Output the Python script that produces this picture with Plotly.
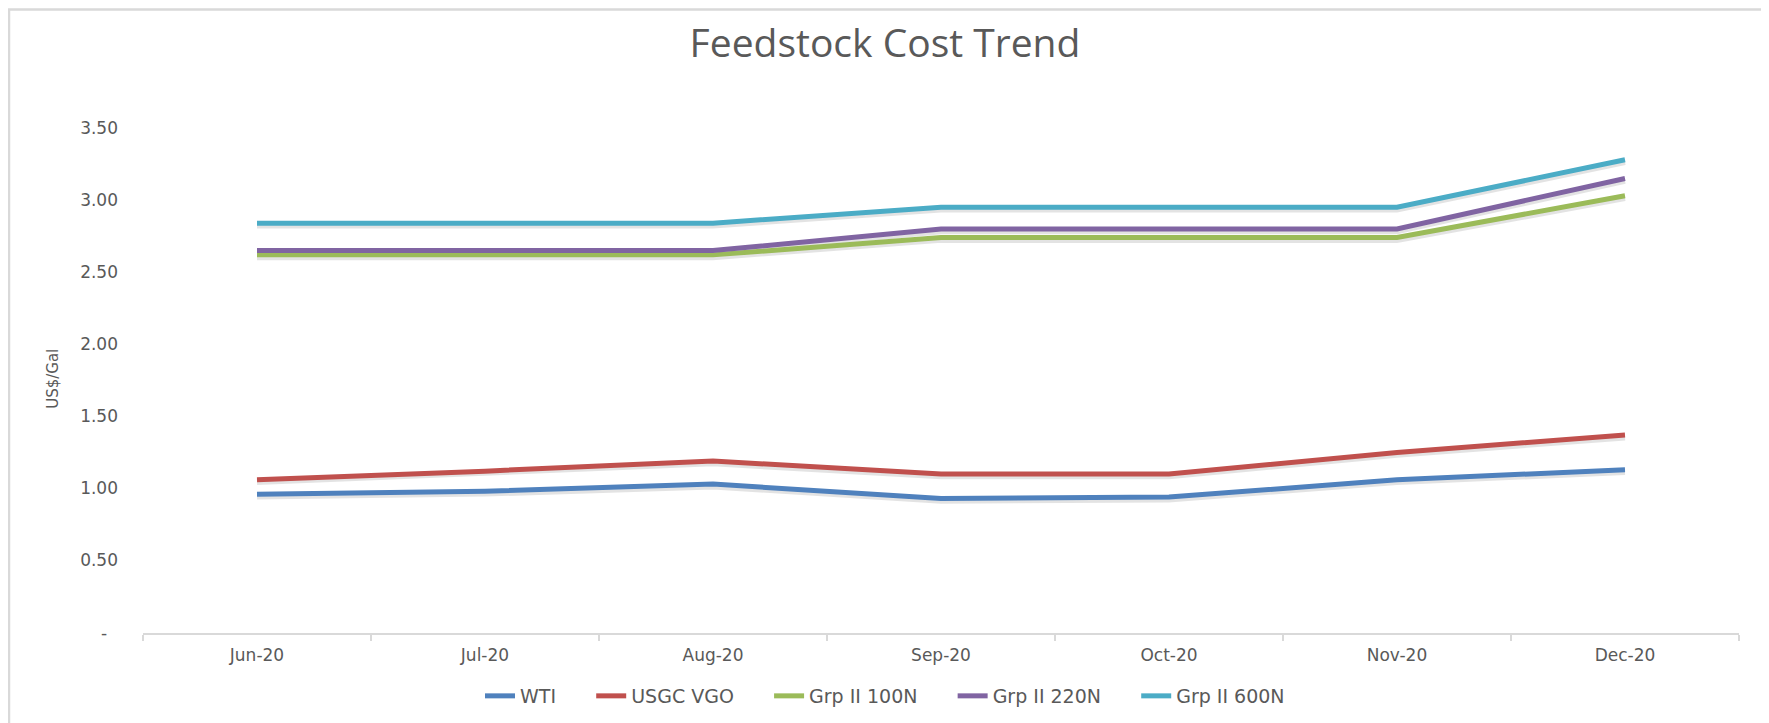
import plotly.graph_objects as go

months = ["Jun-20", "Jul-20", "Aug-20", "Sep-20", "Oct-20", "Nov-20", "Dec-20"]
wti = [0.96, 0.98, 1.03, 0.93, 0.94, 1.06, 1.13]
usgc_vgo = [1.06, 1.12, 1.19, 1.10, 1.10, 1.25, 1.37]
grp2_100n = [2.62, 2.62, 2.62, 2.74, 2.74, 2.74, 3.03]
grp2_220n = [2.65, 2.65, 2.65, 2.80, 2.80, 2.80, 3.15]
grp2_600n = [2.84, 2.84, 2.84, 2.95, 2.95, 2.95, 3.28]

series_names = ["WTI", "USGC VGO", "Grp II 100N", "Grp II 220N", "Grp II 600N"]
series_vals = [wti, usgc_vgo, grp2_100n, grp2_220n, grp2_600n]
colors = ["#4F81BD", "#C0504D", "#9BBB59", "#8064A2", "#4BACC6"]

ytick_vals = [0, 0.5, 1.0, 1.5, 2.0, 2.5, 3.0, 3.5]
ytick_text = ["-\u00a0\u00a0", "0.50", "1.00", "1.50", "2.00", "2.50", "3.00", "3.50"]

W, H = 1769, 723
OFF = 8  # page body margin offset
# plot-area edges in page pixels
PL, PR, PT, PB = 143, 1739, 128, 635
ML, MT = PL - OFF, PT - OFF
MR, MB = W - (PR - OFF), H - (PB - OFF)
pw, ph = W - ML - MR, H - MT - MB


def px_x(page_x):
    return (page_x - OFF - ML) / pw


def px_y(page_y):
    return (H - MB - (page_y - OFF)) / ph


fig = go.Figure()

# soft shadows beneath lines
shadow_off = 0.016
for vals in series_vals:
    fig.add_trace(go.Scatter(
        x=months, y=[v - shadow_off for v in vals], mode="lines",
        line=dict(color="rgba(0,0,0,0.11)", width=6),
        showlegend=False, hoverinfo="skip"))

pad = "\u00a0" * 5
for name, vals, c in zip(series_names, series_vals, colors):
    fig.add_trace(go.Scatter(
        x=months, y=vals, mode="lines", name=name + pad,
        line=dict(color=c, width=5)))

fig.update_layout(
    width=W, height=H,
    margin=dict(l=ML, r=MR, t=MT, b=MB),
    paper_bgcolor="white", plot_bgcolor="white",
    title=dict(text="Feedstock Cost Trend", x=(885 - OFF) / W, xref="container",
               y=1 - (43 - OFF) / H, yref="container", yanchor="middle", xanchor="center",
               font=dict(family="Open Sans", size=39, color="#595959")),
    xaxis=dict(type="category", range=[-0.5, 6.5], showgrid=False,
               showline=True, linecolor="#D9D9D9", linewidth=2,
               ticks="outside", tickson="boundaries", ticklen=6,
               tickcolor="#D9D9D9", tickwidth=2,
               ticklabelstandoff=6,
               tickfont=dict(family="DejaVu Sans", size=17, color="#595959"),
               zeroline=False),
    yaxis=dict(range=[0, 3.5], showgrid=False, zeroline=False, showline=False,
               tickvals=ytick_vals, ticktext=ytick_text,
               ticklabelstandoff=24,
               tickfont=dict(family="DejaVu Sans", size=17, color="#595959")),
    legend=dict(orientation="h", xref="container", yref="container",
                x=(900 - OFF) / W, y=1 - (696 - OFF) / H, xanchor="center", yanchor="middle",
                font=dict(family="DejaVu Sans", size=19, color="#595959"),
                tracegroupgap=0),
    annotations=[dict(text="US$/Gal", xref="paper", yref="paper",
                      x=px_x(53), y=px_y(380), xanchor="center", yanchor="middle",
                      showarrow=False, textangle=-90,
                      font=dict(family="DejaVu Sans", size=15, color="#595959"))],
    shapes=[dict(type="rect", xref="paper", yref="paper",
                 x0=px_x(OFF + 1), x1=px_x(1765),
                 y0=px_y(H + 20), y1=px_y(OFF + 1),
                 line=dict(color="#D9D9D9", width=2.5), fillcolor="rgba(0,0,0,0)",
                 layer="below")],
    showlegend=True,
)

fig.write_html("out.html")
